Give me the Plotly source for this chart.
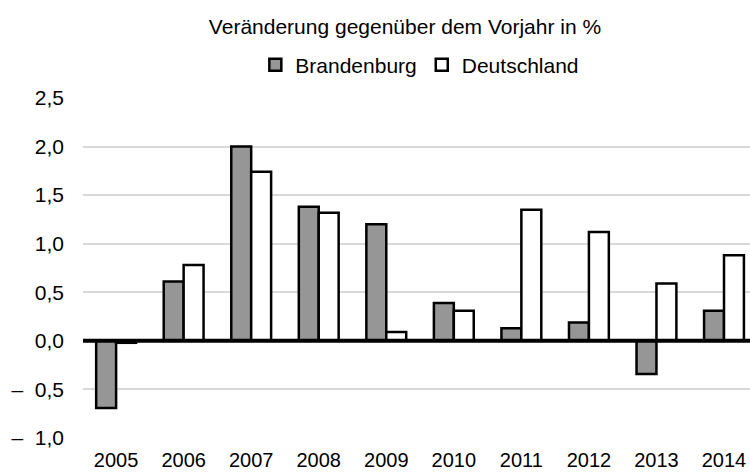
import plotly.graph_objects as go

years = ["2005", "2006", "2007", "2008", "2009", "2010", "2011", "2012", "2013", "2014"]
brandenburg = [-0.69, 0.61, 2.00, 1.38, 1.20, 0.39, 0.13, 0.19, -0.34, 0.31]
deutschland = [-0.02, 0.78, 1.74, 1.32, 0.09, 0.31, 1.35, 1.12, 0.59, 0.88]
y_tickvals = [-1.0, -0.5, 0.0, 0.5, 1.0, 1.5, 2.0, 2.5]
y_ticktext = ["–\u00a0\u00a01,0", "–\u00a0\u00a00,5", "0,0", "0,5", "1,0", "1,5", "2,0", "2,5"]

FONT = "Liberation Sans, Arial, sans-serif"
FS = 21
W, H = 750, 472

fig = go.Figure()
fig.add_trace(go.Bar(
    x=years, y=brandenburg, name="Brandenburg",
    marker=dict(color="#969696", line=dict(color="black", width=2.5)),
))
fig.add_trace(go.Bar(
    x=years, y=deutschland, name="Deutschland",
    marker=dict(color="white", line=dict(color="black", width=2.5)),
))

# thick zero line drawn above the bars
fig.add_shape(type="line", xref="paper", x0=0, x1=1, yref="y", y0=0, y1=0,
              line=dict(color="black", width=4), layer="above")

fig.update_layout(
    width=W, height=H,
    margin=dict(l=83, r=0, t=98, b=34),
    paper_bgcolor="white", plot_bgcolor="white",
    font=dict(family=FONT, size=FS, color="black"),
    barmode="group", bargap=0.41, bargroupgap=0,
    title=dict(text="Veränderung gegenüber dem Vorjahr in %",
               x=405 / W, xanchor="center", xref="container",
               y=1 - 27 / H, yanchor="middle", yref="container",
               font=dict(size=FS, family=FONT, color="black")),
    legend=dict(orientation="h", x=0.505, xanchor="center", xref="paper",
                y=1 - 65 / H, yanchor="middle", yref="container",
                font=dict(size=FS, family=FONT), bgcolor="rgba(0,0,0,0)"),
    showlegend=True,
)
fig.update_xaxes(
    type="category", range=[-0.49, 9.385],
    showgrid=False, showline=False, ticks="", zeroline=False,
    tickfont=dict(size=20, family=FONT), ticklabelstandoff=8,
)
fig.update_yaxes(
    range=[-1.0, 2.5], tickvals=y_tickvals, ticktext=y_ticktext,
    showgrid=True, gridcolor="#d9d9d9", gridwidth=1.5,
    zeroline=False,
    showline=False, ticks="", tickfont=dict(size=FS, family=FONT),
    ticklabelstandoff=18,
)

fig.write_html("out.html", config={"displayModeBar": False},
               post_script="document.body.style.margin='0';")
